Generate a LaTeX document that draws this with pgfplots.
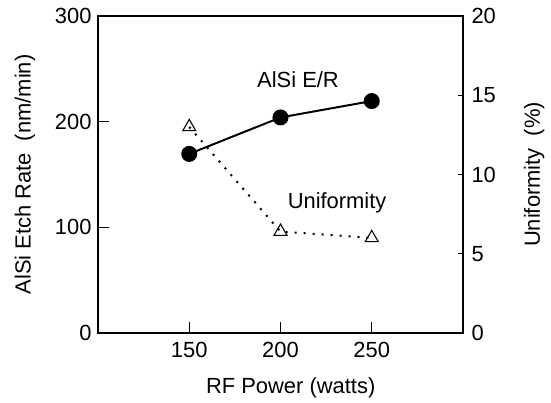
\documentclass[border=0pt]{standalone}
\usepackage{fontspec}
\setmainfont{Liberation Sans}
\usepackage{pgfplots}
\pgfplotsset{compat=1.18}

\begin{document}
\begin{tikzpicture}
\pgfplotsset{
  every axis/.append style={
    width=365bp, height=317bp, scale only axis,
    xmin=100, xmax=300,
    font=\fontsize{22}{26}\selectfont,
    /pgf/number format/assume math mode=true,
    tick align=inside,
    tick style={line width=1bp, black},
    axis line style={line width=1.2bp},
  },
}
% etch rate, left axis
\begin{axis}[
  ymin=0, ymax=300,
  xtick={150,200,250}, xtick pos=bottom,
  ytick={0,100,200,300}, ytick pos=left,
  major tick length=11bp,
  xticklabel style={yshift=-6bp},
  yticklabel style={xshift=-3bp},
  xlabel={RF Power (watts)},
  ylabel={AlSi Etch Rate\ \ (nm/min)},
  x label style={at={(axis description cs:0.528,-0.1735)}, anchor=center},
  y label style={at={(axis description cs:-0.2,0.5)}, anchor=center},
]
\addplot[black, line width=2bp, mark=*, mark size=7bp] coordinates {
  (150,169.5) (200,204) (250,219.5)
};
\node[anchor=base] at (axis cs:209.6,232.8) {AlSi E/R};
\node[anchor=base] at (axis cs:231,117.4) {Uniformity};
\end{axis}
% uniformity, right axis
\begin{axis}[
  ymin=0, ymax=20,
  axis x line=none,
  axis y line*=right,
  ytick={0,5,10,15,20}, ytick pos=right,
  major tick length=5bp,
  yticklabel style={xshift=5bp},
  ylabel={Uniformity\ \ (\%)},
  y label style={at={(axis description cs:1.195,0.5)}, anchor=center, rotate=0},
]
\addplot[black, line width=2bp, dash pattern=on 2bp off 7bp,
  mark=triangle, mark size=7.5bp, mark options={solid, line width=1.1bp}] coordinates {
  (150,13.0) (200,6.4) (250,6.0)
};
\end{axis}
\pgfresetboundingbox
\path (current axis.south west) ++(-98bp,-70bp) rectangle ++(551bp,403bp);
\end{tikzpicture}
\end{document}
